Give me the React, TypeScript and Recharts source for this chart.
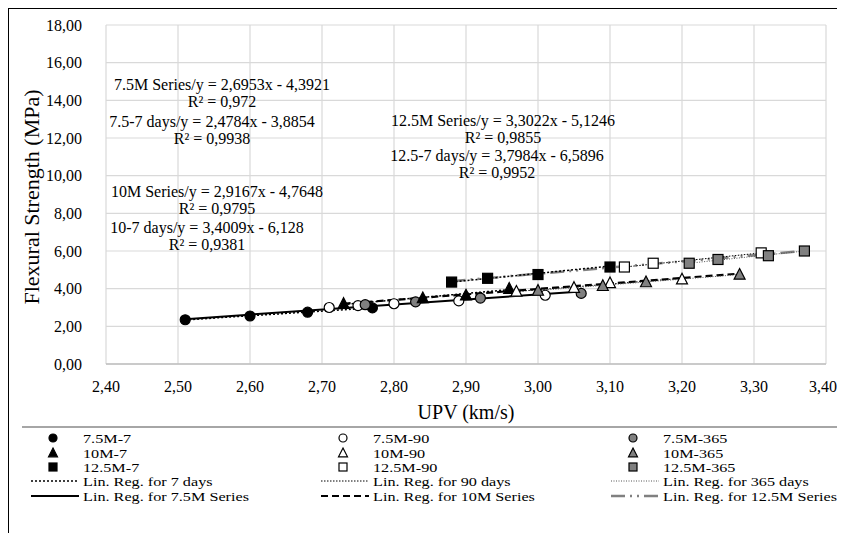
import React from "react";
import { CartesianGrid, Scatter, ScatterChart, XAxis, YAxis } from "recharts";

type Pt = { x: number; y: number };

const xTicks = [2.4, 2.5, 2.6, 2.7, 2.8, 2.9, 3.0, 3.1, 3.2, 3.3, 3.4];
const yTicks = [0, 2, 4, 6, 8, 10, 12, 14, 16, 18];

// measured points
const m75d7: Pt[] = [
  { x: 2.51, y: 2.35 },
  { x: 2.6, y: 2.55 },
  { x: 2.68, y: 2.75 },
  { x: 2.77, y: 2.98 },
];
const m75d90: Pt[] = [
  { x: 2.71, y: 3.0 },
  { x: 2.75, y: 3.1 },
  { x: 2.8, y: 3.2 },
  { x: 2.89, y: 3.35 },
  { x: 3.01, y: 3.65 },
];
const m75d365: Pt[] = [
  { x: 2.76, y: 3.15 },
  { x: 2.83, y: 3.3 },
  { x: 2.92, y: 3.5 },
  { x: 3.06, y: 3.75 },
];
const m10d7: Pt[] = [
  { x: 2.73, y: 3.2 },
  { x: 2.84, y: 3.5 },
  { x: 2.9, y: 3.65 },
  { x: 2.96, y: 4.0 },
];
const m10d90: Pt[] = [
  { x: 2.97, y: 3.85 },
  { x: 3.05, y: 4.05 },
  { x: 3.1, y: 4.3 },
  { x: 3.2, y: 4.5 },
];
const m10d365: Pt[] = [
  { x: 3.0, y: 3.9 },
  { x: 3.09, y: 4.15 },
  { x: 3.15, y: 4.35 },
  { x: 3.28, y: 4.75 },
];
const m125d7: Pt[] = [
  { x: 2.88, y: 4.35 },
  { x: 2.93, y: 4.55 },
  { x: 3.0, y: 4.75 },
  { x: 3.1, y: 5.15 },
];
const m125d90: Pt[] = [
  { x: 3.12, y: 5.15 },
  { x: 3.16, y: 5.35 },
  { x: 3.31, y: 5.9 },
];
const m125d365: Pt[] = [
  { x: 3.21, y: 5.35 },
  { x: 3.25, y: 5.55 },
  { x: 3.32, y: 5.75 },
  { x: 3.37, y: 6.0 },
];

// trend line end points
const reg75: Pt[] = [{ x: 2.51, y: 2.38 }, { x: 3.06, y: 3.85 }];
const reg10: Pt[] = [{ x: 2.73, y: 3.2 }, { x: 3.28, y: 4.8 }];
const reg125: Pt[] = [{ x: 2.88, y: 4.4 }, { x: 3.37, y: 6.0 }];
const reg75d7: Pt[] = [{ x: 2.51, y: 2.34 }, { x: 2.77, y: 2.98 }];
const reg10d7: Pt[] = [{ x: 2.73, y: 3.16 }, { x: 2.96, y: 3.95 }];
const reg125d7: Pt[] = [{ x: 2.88, y: 4.35 }, { x: 3.1, y: 5.2 }];
const reg10d90: Pt[] = [{ x: 2.97, y: 3.85 }, { x: 3.2, y: 4.55 }];
const reg125d90: Pt[] = [{ x: 3.12, y: 5.15 }, { x: 3.31, y: 5.9 }];
const reg10d365: Pt[] = [{ x: 3.0, y: 3.9 }, { x: 3.28, y: 4.75 }];
const reg125d365: Pt[] = [{ x: 3.21, y: 5.35 }, { x: 3.37, y: 6.0 }];

const equations = [
  { l1: "7.5M Series/y = 2,6953x - 4,3921", l2: "R² = 0,972", cx: 214, cy: 77 },
  { l1: "7.5-7 days/y = 2,4784x - 3,8854", l2: "R² = 0,9938", cx: 204, cy: 114 },
  { l1: "10M Series/y = 2,9167x - 4,7648", l2: "R² = 0,9795", cx: 209, cy: 184 },
  { l1: "10-7 days/y = 3,4009x - 6,128", l2: "R² = 0,9381", cx: 199, cy: 220 },
  { l1: "12.5M Series/y = 3,3022x - 5,1246", l2: "R² = 0,9855", cx: 495, cy: 113 },
  { l1: "12.5-7 days/y = 3,7984x - 6,5896", l2: "R² = 0,9952", cx: 489, cy: 148 },
];

const legendCols = [
  ["7.5M-7", "10M-7", "12.5M-7", "Lin. Reg. for 7 days", "Lin. Reg. for 7.5M Series"],
  ["7.5M-90", "10M-90", "12.5M-90", "Lin. Reg. for 90 days", "Lin. Reg. for 10M Series"],
  ["7.5M-365", "10M-365", "12.5M-365", "Lin. Reg. for 365 days", "Lin. Reg. for 12.5M Series"],
];

const serif = '"Liberation Serif", "Times New Roman", serif';
const black = "#000";
const grey = "#808080";

const circle = (fill: string, r = 5) => (p: any) => (
  <circle cx={p.cx} cy={p.cy} r={r} fill={fill} stroke={black} strokeWidth={1.2} />
);
const triangle = (fill: string, s = 5.5) => (p: any) => (
  <polygon
    points={`${p.cx},${p.cy - s * 1.1} ${p.cx + s},${p.cy + s * 0.85} ${p.cx - s},${p.cy + s * 0.85}`}
    fill={fill}
    stroke={black}
    strokeWidth={1.2}
  />
);
const square = (fill: string, s = 5) => (p: any) => (
  <rect x={p.cx - s} y={p.cy - s} width={s * 2} height={s * 2} fill={fill} stroke={black} strokeWidth={1.2} />
);
const noMark = () => <g />;

const lineStyles = [
  [
    { stroke: black, strokeWidth: 1.5, strokeDasharray: "2 2" },
    { stroke: black, strokeWidth: 1, strokeDasharray: "1.5 1.5" },
    { stroke: "#555", strokeWidth: 1, strokeDasharray: "1 1.5" },
  ],
  [
    { stroke: black, strokeWidth: 2 },
    { stroke: black, strokeWidth: 2.2, strokeDasharray: "7 4" },
    { stroke: grey, strokeWidth: 2.5, strokeDasharray: "14 5 2 5 2 5" },
  ],
];

const markerRows = [
  [circle(black, 4), circle("#fff", 4), circle(grey, 4)],
  [triangle(black, 4.5), triangle("#fff", 4.5), triangle(grey, 4.5)],
  [square(black, 4), square("#fff", 4), square(grey, 4)],
];

function Legend() {
  const colX = [45, 335, 625];
  const rowY = [430, 445, 459, 473, 488];
  return (
    <svg
      width={829}
      height={525}
      style={{ position: "absolute", left: 0, top: 0, pointerEvents: "none", overflow: "visible" }}
    >
      <line x1={14} x2={837} y1={419} y2={419} stroke="#a6a6a6" strokeWidth={2} />
      {legendCols.map((col, c) =>
        col.map((label, r) => {
          const y = rowY[r];
          const x0 = colX[c];
          let sym: React.ReactNode;
          if (r < 3) {
            sym = markerRows[r][c]({ cx: x0, cy: y });
          } else {
            const st = lineStyles[r - 3][c];
            sym = <line x1={x0 - 22} x2={x0 + 26} y1={y} y2={y} {...st} />;
          }
          return (
            <g key={label}>
              {sym}
              <text
                transform={`translate(${x0 + 30},${y}) scale(1.2,1)`}
                dominantBaseline="central"
                fontFamily={serif}
                fontSize={13.5}
                fill={black}
              >
                {label}
              </text>
            </g>
          );
        })
      )}
    </svg>
  );
}

const fmt = (v: number) => v.toFixed(2).replace(".", ",");

export default function App() {
  const tick = { fontSize: 16, fill: black, fontFamily: serif };
  return (
    <div style={{ position: "relative", width: 829, height: 525, fontFamily: serif, background: "#fff" }}>
      <style>{".recharts-surface{overflow:visible}"}</style>
      <div style={{ position: "absolute", left: 0, top: 0, width: 1, height: 525, background: "#000" }} />
      <div style={{ position: "absolute", left: 0, top: 0, width: 837, height: 1, background: "#000" }} />
      <ScatterChart width={829} height={400} margin={{ top: 17, right: 11, bottom: 14, left: 38 }}>
        <CartesianGrid stroke="#d9d9d9" strokeWidth={1.2} />
        <XAxis
          dataKey="x"
          type="number"
          domain={[2.4, 3.4]}
          ticks={xTicks}
          tickFormatter={fmt}
          tick={tick}
          tickLine={false}
          tickSize={0}
          tickMargin={17}
          axisLine={{ stroke: "#bfbfbf", strokeWidth: 1.5 }}
          height={30}
          allowDataOverflow
        />
        <YAxis
          dataKey="y"
          type="number"
          domain={[0, 18]}
          ticks={yTicks}
          tickFormatter={fmt}
          tick={tick}
          tickLine={false}
          axisLine={false}
          tickSize={0}
          tickMargin={24}
          width={60}
          allowDataOverflow
        />
        <Scatter data={reg75} line={lineStyles[1][0]} shape={noMark} isAnimationActive={false} />
        <Scatter data={reg10} line={lineStyles[1][1]} shape={noMark} isAnimationActive={false} />
        <Scatter data={reg125} line={lineStyles[1][2]} shape={noMark} isAnimationActive={false} />
        <Scatter data={reg75d7} line={lineStyles[0][0]} shape={noMark} isAnimationActive={false} />
        <Scatter data={reg10d7} line={lineStyles[0][0]} shape={noMark} isAnimationActive={false} />
        <Scatter data={reg125d7} line={lineStyles[0][0]} shape={noMark} isAnimationActive={false} />
        <Scatter data={reg10d90} line={lineStyles[0][1]} shape={noMark} isAnimationActive={false} />
        <Scatter data={reg125d90} line={lineStyles[0][1]} shape={noMark} isAnimationActive={false} />
        <Scatter data={reg10d365} line={lineStyles[0][2]} shape={noMark} isAnimationActive={false} />
        <Scatter data={reg125d365} line={lineStyles[0][2]} shape={noMark} isAnimationActive={false} />
        <Scatter data={m75d7} shape={circle(black)} isAnimationActive={false} />
        <Scatter data={m75d90} shape={circle("#fff")} isAnimationActive={false} />
        <Scatter data={m75d365} shape={circle(grey)} isAnimationActive={false} />
        <Scatter data={m10d7} shape={triangle(black)} isAnimationActive={false} />
        <Scatter data={m10d90} shape={triangle("#fff")} isAnimationActive={false} />
        <Scatter data={m10d365} shape={triangle(grey)} isAnimationActive={false} />
        <Scatter data={m125d7} shape={square(black)} isAnimationActive={false} />
        <Scatter data={m125d90} shape={square("#fff")} isAnimationActive={false} />
        <Scatter data={m125d365} shape={square(grey)} isAnimationActive={false} />
      </ScatterChart>
      {equations.map((e) => (
        <div
          key={e.l1}
          style={{
            position: "absolute",
            left: e.cx - 160,
            top: e.cy - 8,
            width: 320,
            textAlign: "center",
            fontSize: 16,
            lineHeight: "16.5px",
            whiteSpace: "nowrap",
          }}
        >
          <div>{e.l1}</div>
          <div>{e.l2}</div>
        </div>
      ))}
      <div
        style={{
          position: "absolute",
          left: 24 - 150,
          top: 189 - 12,
          width: 300,
          textAlign: "center",
          fontSize: 22,
          lineHeight: "24px",
          transform: "rotate(-90deg)",
          whiteSpace: "nowrap",
        }}
      >
        Flexural Strength (MPa)
      </div>
      <div
        style={{
          position: "absolute",
          left: 458 - 100,
          top: 404 - 12,
          width: 200,
          textAlign: "center",
          fontSize: 20,
          lineHeight: "24px",
        }}
      >
        UPV (km/s)
      </div>
      <Legend />
    </div>
  );
}
